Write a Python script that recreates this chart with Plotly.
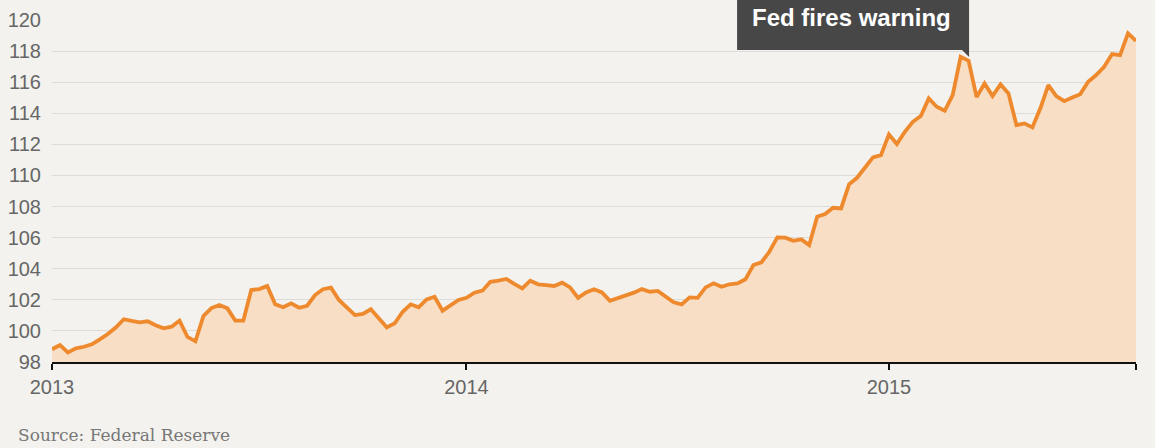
import pandas as pd
import plotly.graph_objects as go

# Weekly index values
start_date = "2013-01-04"
values = [
    98.82, 99.09, 98.62, 98.88, 98.98, 99.14, 99.46, 99.80, 100.22, 100.75,
    100.64, 100.55, 100.62, 100.36, 100.17, 100.27, 100.66, 99.61, 99.33, 100.96,
    101.47, 101.67, 101.45, 100.66, 100.66, 102.63, 102.69, 102.89, 101.71, 101.52,
    101.77, 101.49, 101.62, 102.31, 102.68, 102.78, 101.99, 101.52, 101.02, 101.09,
    101.39, 100.81, 100.23, 100.49, 101.23, 101.71, 101.52, 102.03, 102.20, 101.30,
    101.67, 101.99, 102.13, 102.46, 102.59, 103.16, 103.23, 103.34, 103.02, 102.74,
    103.23, 103.00, 102.95, 102.89, 103.10, 102.80, 102.13, 102.48, 102.68, 102.48,
    101.94, 102.10, 102.24, 102.46, 102.69, 102.52, 102.57, 102.18, 101.84, 101.71,
    102.16, 102.13, 102.80, 103.06, 102.84, 103.00, 103.06, 103.32, 104.24, 104.41,
    105.09, 106.02, 106.00, 105.80, 105.89, 105.52, 107.34, 107.52, 107.92, 107.88,
    109.43, 109.85, 110.50, 111.16, 111.31, 112.64, 112.02, 112.81, 113.45, 113.82,
    114.96, 114.42, 114.16, 115.17, 117.63, 117.38, 115.04, 115.92, 115.11, 115.86,
    115.28, 113.24, 113.35, 113.09, 114.32, 115.81, 115.11, 114.78, 115.02, 115.23,
    116.03, 116.46, 116.99, 117.81, 117.74, 119.14, 118.66,
]
dates = pd.date_range(start_date, periods=len(values), freq="7D")

tick_dates = ["2013-01-04", "2014-01-03", "2015-01-09", str(dates[-1].date())]
tick_labels = ["2013", "2014", "2015", ""]
y_ticks = list(range(98, 121, 2))

annotation_text = "Fed fires warning"
source_text = "Source: Federal Reserve"

BG = "#f3f2ee"
LINE = "#ee8a2d"
FILL = "#f7dec5"
BOX = "#474747"

fig = go.Figure()
fig.add_trace(go.Scatter(
    x=dates, y=values, mode="lines",
    line=dict(color=LINE, width=3.8),
    fill="tozeroy", fillcolor=FILL,
    hoverinfo="x+y",
))

fig.update_layout(
    width=1155, height=448,
    margin=dict(l=52, r=19, t=20, b=86, autoexpand=False),
    paper_bgcolor=BG, plot_bgcolor=BG,
    showlegend=False,
    font=dict(family="Liberation Sans, Arial, sans-serif", color="#666666", size=20),
)
fig.update_xaxes(
    range=[dates[0], dates[-1]],
    tickvals=tick_dates, ticktext=tick_labels,
    ticks="outside", ticklen=6, tickwidth=1.5, tickcolor="#111111",
    showline=True, linecolor="#111111", linewidth=1.5,
    showgrid=False, zeroline=False,
    tickfont=dict(size=20, color="#666666"),
)
fig.update_yaxes(
    range=[98, 120], tickvals=y_ticks,
    showgrid=True, gridcolor="#dcdcd8", gridwidth=1,
    zeroline=False, showline=False, ticks="",
    ticklabelstandoff=10,
    tickfont=dict(size=20, color="#666666"),
)

# Callout box
fig.add_shape(type="rect", xref="paper", yref="paper",
              x0=0.632, x1=0.846, y0=0.912, y1=1.07,
              fillcolor=BOX, line=dict(width=0), layer="above")
fig.add_annotation(
    xref="paper", yref="paper", x=0.738, y=1.006,
    xanchor="center", yanchor="middle",
    text="<b>" + annotation_text + "</b>", showarrow=False,
    font=dict(family="Liberation Sans, Arial, sans-serif", size=24, color="white"),
)
# small pointer triangle under the box's right edge
fig.add_shape(type="path", xref="paper", yref="paper",
              xsizemode="pixel", xanchor=0.846,
              ysizemode="pixel", yanchor=0.912,
              path="M -7,0 L 0,0 L 0,-7 Z",
              fillcolor=BOX, line=dict(width=0), layer="above")

fig.add_annotation(
    xref="paper", yref="paper", x=-0.033, y=-0.213,
    xanchor="left", yanchor="middle",
    text=source_text, showarrow=False,
    font=dict(family="DejaVu Serif, Georgia, serif", size=17, color="#777777"),
)

fig.write_html(
    "out.html",
    config={"displayModeBar": False},
    post_script="document.body.style.margin='0';document.body.style.background='#f3f2ee';",
)
